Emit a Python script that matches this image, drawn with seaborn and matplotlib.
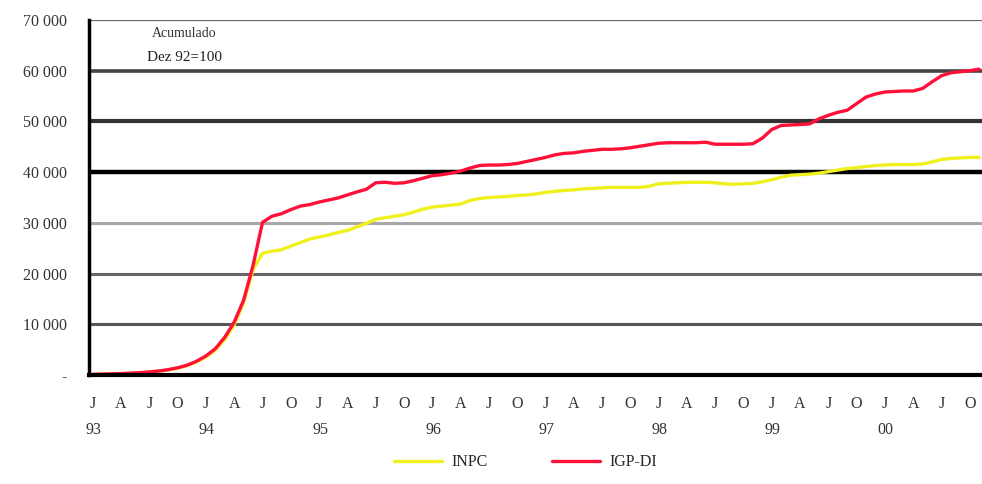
import matplotlib
matplotlib.use("Agg")
import matplotlib.pyplot as plt
import matplotlib.transforms as mtransforms
import numpy as np
import pandas as pd
import seaborn as sns

# ── Data (Dez 92 = 100) ─────────────────────────────────────────────────────
years = ["93", "94", "95", "96", "97", "98", "99", "00"]
quarter_letters = ["J", "A", "J", "O"]

inpc = [
    128, 160, 205, 265, 340, 440, 575, 760, 1010, 1350, 1830, 2550,
    3550, 4900, 7000, 9900, 14200, 20800, 24000, 24400, 24700, 25400, 26100, 26800,
    27200, 27600, 28100, 28500, 29200, 29900, 30700, 31000, 31300, 31600, 32100, 32700,
    33100, 33300, 33500, 33700, 34400, 34800, 35000, 35100, 35200, 35400, 35500, 35700,
    36000, 36200, 36400, 36500, 36700, 36800, 36900, 37000, 37000, 37000, 37000, 37200,
    37700, 37800, 37900, 38000, 38000, 38000, 37900, 37700, 37600, 37700, 37800, 38100,
    38500, 39000, 39400, 39500, 39600, 39800, 40100, 40400, 40700, 40900, 41100, 41300,
    41400, 41500, 41500, 41500, 41600, 42000, 42500, 42700, 42800, 42900, 42900,
]

igp_di = [
    128, 165, 212, 274, 355, 460, 602, 793, 1055, 1420, 1935, 2700,
    3760, 5190, 7440, 10420, 14750, 21600, 30100, 31300, 31800, 32600, 33300, 33600,
    34100, 34500, 34900, 35500, 36100, 36600, 37900, 38000, 37800, 37900, 38300, 38800,
    39300, 39500, 39800, 40200, 40800, 41300, 41400, 41400, 41500, 41700, 42100, 42500,
    42900, 43400, 43700, 43800, 44100, 44300, 44500, 44500, 44600, 44800, 45100, 45400,
    45700, 45800, 45800, 45800, 45800, 45900, 45500, 45500, 45500, 45500, 45600, 46700,
    48400, 49200, 49300, 49400, 49500, 50500, 51200, 51800, 52200, 53500, 54800, 55400,
    55800, 55900, 56000, 56000, 56500, 57800, 59000, 59600, 59800, 60000, 60300,
]

y_ticks = [0, 10000, 20000, 30000, 40000, 50000, 60000, 70000]
y_labels = ["-", "10 000", "20 000", "30 000", "40 000", "50 000", "60 000", "70 000"]

# ── Long-form table for seaborn ─────────────────────────────────────────────
n = len(inpc)
df = pd.DataFrame({
    "mes": list(range(n)) * 2,
    "valor": inpc + igp_di,
    "serie": ["INPC"] * n + ["IGP-DI"] * n,
})

sns.set_style("white")
plt.rcParams["font.family"] = ["Liberation Serif", "DejaVu Serif"]

fig = plt.figure(figsize=(9.82, 4.84), dpi=100)
ax = fig.add_axes([0.0906, 0.2252, 0.9094, 0.7335])

# gridlines, each with its own odd shade as in the original
grid_styles = {
    10000: ("#555555", 2.2),
    20000: ("#666666", 2.2),
    30000: ("#a8a8a8", 2.2),
    40000: ("#000000", 3.2),
    50000: ("#333333", 3.0),
    60000: ("#444444", 2.6),
    70000: ("#666666", 1.6),
}
for yv, (c, lw) in grid_styles.items():
    ax.axhline(yv, color=c, lw=lw, zorder=1)

sns.lineplot(
    data=df, x="mes", y="valor", hue="serie",
    hue_order=["INPC", "IGP-DI"],
    palette={"INPC": "#f0f01e", "IGP-DI": "#ff1038"},
    linewidth=2.4, legend=False, ax=ax, zorder=3,
)

ax.set_xlim(-0.4, n - 0.7)
ax.set_ylim(0, 70000)

ax.set_yticks(y_ticks)
ax.set_yticklabels(y_labels, fontsize=11.5, color="#333333")
ax.tick_params(axis="y", length=6, width=2, color="#444444", pad=10)

# quarters labelled, every month a small tick
q_pos = list(range(0, n, 3))
ax.set_xticks(q_pos)
ax.set_xticklabels([quarter_letters[i % 4] for i in range(len(q_pos))],
                   fontsize=11.5, color="#333333")
ax.set_xticks(range(n), minor=True)
ax.tick_params(axis="x", which="both", length=3, width=1.5, color="#555555",
               direction="out", pad=12)
ax.set_xlabel("")
ax.set_ylabel("")

trans = mtransforms.blended_transform_factory(ax.transData, ax.transAxes)
for i, yr in enumerate(years):
    ax.text(i * 12 + 0.1, -0.155, yr, transform=trans, ha="center", va="center",
            fontsize=11.5, color="#333333")

for side in ["top", "right"]:
    ax.spines[side].set_visible(False)
ax.spines["left"].set_linewidth(2.5)
ax.spines["left"].set_color("black")
ax.spines["bottom"].set_linewidth(3)
ax.spines["bottom"].set_color("black")
ax.spines["bottom"].set_zorder(4)

ax.text(0.107, 0.962, "Acumulado", transform=ax.transAxes, ha="center",
        va="center", fontsize=10, color="#333333")
ax.text(0.107, 0.893, "Dez 92=100", transform=ax.transAxes, ha="center",
        va="center", fontsize=11, color="#222222")

handles = [
    plt.Line2D([], [], color="#f0f01e", lw=2.4),
    plt.Line2D([], [], color="#ff1038", lw=2.4),
]
fig.legend(handles, ["INPC", "IGP-DI"], loc="center", bbox_to_anchor=(0.535, 0.045),
           ncol=2, frameon=False, fontsize=11.5, handlelength=3.0,
           columnspacing=4.0, handletextpad=0.6)

fig.savefig("out.png", dpi=100)
